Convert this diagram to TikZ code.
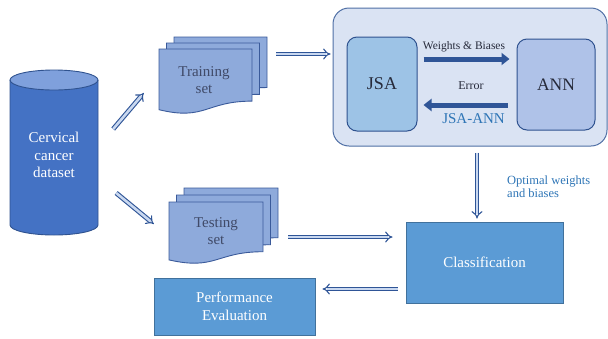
\documentclass[tikz,border=0pt]{standalone}
\usepackage{fontspec}
\setmainfont{Liberation Serif}
\usetikzlibrary{arrows.meta,calc}
\definecolor{cylbody}{HTML}{4472C4}
\definecolor{cyltop}{HTML}{7FA0DC}
\definecolor{cylline}{HTML}{2F528F}
\definecolor{docfill}{HTML}{8EAADB}
\definecolor{docline}{HTML}{3A5A9A}
\definecolor{doctext}{HTML}{404A68}
\definecolor{outerfill}{HTML}{DAE3F3}
\definecolor{outerline}{HTML}{4F6FA5}
\definecolor{jsafill}{HTML}{9DC3E6}
\definecolor{annfill}{HTML}{AFC2E8}
\definecolor{boxfill}{HTML}{5B9BD5}
\definecolor{boxline}{HTML}{41719C}
\definecolor{arrowblue}{HTML}{2F5597}
\definecolor{arrowfill}{HTML}{C9D8F0}
\definecolor{tealtext}{HTML}{2E75B6}
\definecolor{darktext}{HTML}{262A3A}
\newcommand\docshape[4]{\filldraw[doc] (#1,#2) -- ({#1+#3},#2) -- ({#1+#3},{#2+0.802*#4}) .. controls ({#1+0.5*#3},{#2+0.802*#4}) and ({#1+0.5*#3},{#2+1.107*#4}) .. (#1,{#2+0.934*#4}) -- cycle;}
\begin{document}
\begin{tikzpicture}[x=1pt,y=-1pt,
  dbl/.style={draw=arrowblue, double=arrowfill, double distance=2.6pt, line width=1.1pt, -{Implies}},
  bigarrow/.style={draw=arrowblue, line width=5pt, -{Triangle[length=8pt,width=12pt]}},
  doc/.style={fill=docfill, draw=docline, line width=0.9pt},
  lbl/.style={font=\fontsize{15}{17.5}\selectfont, align=center, inner sep=0pt},
  box/.style={draw=boxline, fill=boxfill, line width=1pt, text=white, font=\fontsize{15}{17.5}\selectfont, align=center},
]
\useasboundingbox (0,0) rectangle (608,338);
% cylinder
\fill[cylbody] (10,80) -- (10,225) arc[start angle=180,end angle=0,x radius=44,y radius=10] -- (98,80) -- cycle;
\filldraw[fill=cyltop, draw=cylline, line width=0.9pt] (54,80) ellipse[x radius=44, y radius=10];
\draw[cylline, line width=0.9pt] (10,80) -- (10,225) arc[start angle=180,end angle=0,x radius=44,y radius=10] -- (98,80);
\node[lbl, text=white, minimum width=88pt, minimum height=140pt] (data) at (54,155) {Cervical\\cancer\\dataset};
% training documents
\docshape{174}{37}{93}{63}
\docshape{166.5}{43}{93}{64}
\docshape{159}{49}{93}{65}
\node[lbl, text=doctext, minimum width=93pt, minimum height=62pt] (trn) at (204,80) {Training\\set};
% testing documents
\docshape{184}{188}{94}{62}
\docshape{176.5}{195}{94}{62}
\docshape{169}{202}{94}{62}
\node[lbl, text=doctext, minimum width=94pt, minimum height=58pt] (tst) at (216,231) {Testing\\set};
% JSA-ANN block
\node[draw=outerline, fill=outerfill, line width=1pt, rounded corners=16pt, minimum width=274pt, minimum height=138pt] (jsaann) at (470,77) {};
\node[draw=cylline, fill=jsafill, line width=1pt, rounded corners=10pt, minimum width=70pt, minimum height=94pt, font=\fontsize{18}{20}\selectfont, text=darktext] (jsa) at (382,84) {JSA};
\node[draw=cylline, fill=annfill, line width=1pt, rounded corners=10pt, minimum width=78pt, minimum height=91pt, font=\fontsize{17.5}{20}\selectfont, text=darktext] (ann) at (556,84.5) {ANN};
\draw[bigarrow] ($(jsa.east)+(6,-25)$) -- ($(ann.west)+(-7,-25.5)$);
\draw[bigarrow] ($(ann.west)+(-9,20.5)$) -- ($(jsa.east)+(6,21)$);
\node[font=\fontsize{11.5}{13}\selectfont, text=darktext, inner sep=0pt] (wb) at (464,47) {Weights \& Biases};
\node[font=\fontsize{12}{13}\selectfont, text=darktext, inner sep=0pt] (err) at (471,86) {Error};
\node[font=\fontsize{15}{17}\selectfont, text=tealtext, inner sep=0pt] (jalbl) at (473.5,119) {JSA-ANN};
% bottom boxes
\node[box, minimum width=157pt, minimum height=81pt] (cls) at (484.5,262.5) {Classification};
\node[box, minimum width=161pt, minimum height=57pt] (perf) at (234.5,306.5) {Performance\\Evaluation};
\node[font=\fontsize{12.5}{12.5}\selectfont, text=tealtext, align=left, inner sep=0pt, anchor=north west] (opt) at (507,176) {Optimal weights\\and biases};
% arrows
\draw[dbl] ($(data.east)+(15,-26)$) -- ($(trn.west)+(-13.5,13)$);
\draw[dbl] ($(data.east)+(18,38)$) -- ($(tst.west)+(-15,-7)$);
\draw[dbl] ($(trn.east)+(25.5,-26)$) -- ($(jsaann.west)+(-2,-23)$);
\draw[dbl] ($(tst.east)+(25,6)$) -- ($(cls.west)+(-13,-25.5)$);
\draw[dbl] ($(cls.west)+(-8,26.5)$) -- ($(perf.east)+(7,-17.5)$);
\draw[dbl] ($(jsaann.south)+(7,6)$) -- ($(cls.north)+(-7.5,-3)$);
\end{tikzpicture}
\end{document}
